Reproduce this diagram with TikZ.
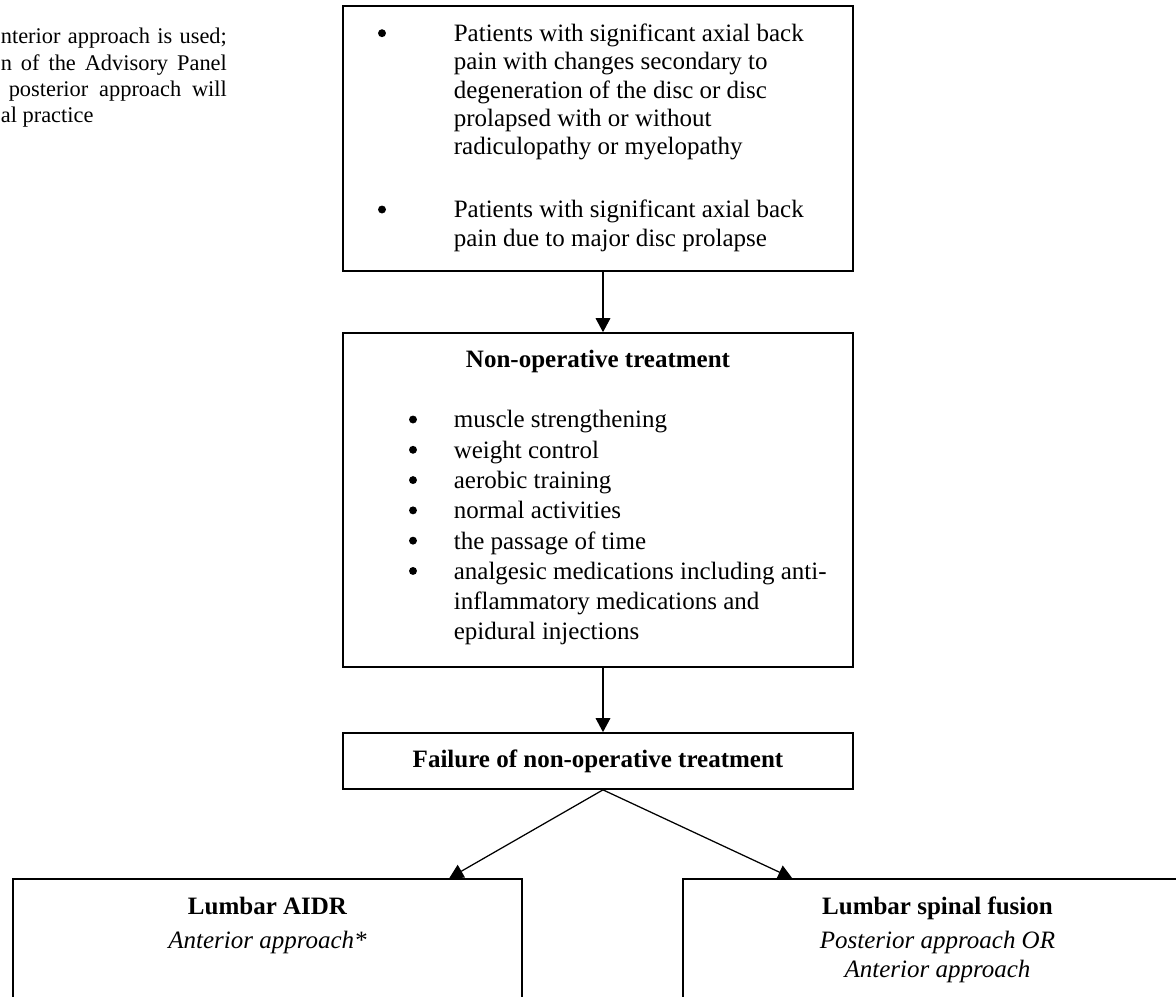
\documentclass[tikz,border=0pt]{standalone}
\usepackage{fontspec}
\setmainfont{Liberation Serif}
\usepackage{tikz}
\usetikzlibrary{arrows.meta}

\begin{document}
\begin{tikzpicture}[x=0.48pt, y=-0.48pt, line width=0.8pt,
  box/.style={draw, rectangle, inner sep=0pt, minimum width=244.8pt},
  txt/.style={inner sep=0pt, font=\fontsize{12}{13.6}\selectfont},
  head/.style={inner sep=0pt, font=\fontsize{12}{13.6}\selectfont\bfseries},
  note/.style={inner sep=0pt, font=\fontsize{12}{13.9}\selectfont\itshape},
  arr/.style={-{Triangle[length=6.7pt, width=7pt]}, line width=0.6pt}]

  \useasboundingbox (0,0) rectangle (1176,997);
  \clip (0,0) rectangle (1176,997);

  \begin{scope}

  \draw (598,138.5) node[box, minimum height=127.2pt, name=crit] {};
  \draw (598,500) node[box, minimum height=160.3pt, name=nonop] {};
  \draw (598,761) node[box, minimum height=26.9pt, font=\fontsize{12}{13.6}\selectfont\bfseries, name=fail] {Failure of non-operative treatment};
  \draw (267.5,969.5) node[box, minimum width=244.3pt, minimum height=86.9pt, name=aidr] {};
  \draw (937.5,969.5) node[box, minimum width=244.3pt, minimum height=86.9pt, name=fusion] {};

  %\draw (0,0) node[name=footnote] {};
  \draw (0,24.6) node[anchor=north west, inner sep=0pt, align=left, font=\fontsize{10.75}{12.6}\selectfont, name=note] {%
    \strut\makebox[108.5pt][s]{nterior approach is used;}\\
    \makebox[108.5pt][s]{n of the Advisory Panel}\\
    \hspace*{3.8pt}\makebox[104.7pt][s]{posterior approach will}\\
    al practice};

  \draw (453,20.9) node[txt, anchor=north west, align=left, name=critText] {%
    \begin{tabular}{@{}l@{}}
      Patients with significant axial back\\
      pain with changes secondary to\\
      degeneration of the disc or disc\\
      prolapsed with or without\\
      radiculopathy or myelopathy\\[16.6pt]
      Patients with significant axial back\\
      pain due to major disc prolapse
    \end{tabular}};

  \draw (598,367) node[head, anchor=base, name=nonopTitle] {Non-operative treatment};
  \draw (453,405.8) node[txt, anchor=north west, font=\fontsize{12}{14.54}\selectfont, name=nonopText] {%
    \begin{tabular}{@{}l@{}}
      muscle strengthening\\
      weight control\\
      aerobic training\\
      normal activities\\
      the passage of time\\
      analgesic medications including anti-\\
      inflammatory medications and\\
      epidural injections
    \end{tabular}};

  % bullets
  \fill (382,33.2) circle [radius=1.9pt];
  \fill (382,209.5) circle [radius=1.9pt];
  \foreach \k in {0,...,5}
    \fill (413,419.5+30.29*\k) circle [radius=1.9pt];

  \draw (267.5,914) node[head, anchor=base, name=aidrTitle] {Lumbar AIDR};
  \draw (267.5,948) node[note, anchor=base, name=aidrNote] {Anterior approach*};
  \draw (937.5,914) node[head, anchor=base, name=fusionTitle] {Lumbar spinal fusion};
  \draw (937.5,927.7) node[note, anchor=north, align=center, name=fusionNote] {\strut Posterior approach OR\\Anterior approach};

  \draw [arr] ([xshift=2.4pt]crit.south) -- ([xshift=2.4pt]nonop.north);
  \draw [arr] ([xshift=2.4pt]nonop.south) -- ([xshift=2.4pt]fail.north);
  \draw [arr] ([xshift=2.4pt]fail.south) -- ([xshift=209.8pt]aidr.north west);
  \draw [arr] ([xshift=2.4pt]fail.south) -- ([xshift=52.8pt]fusion.north west);

  \end{scope}

\end{tikzpicture}
\end{document}
